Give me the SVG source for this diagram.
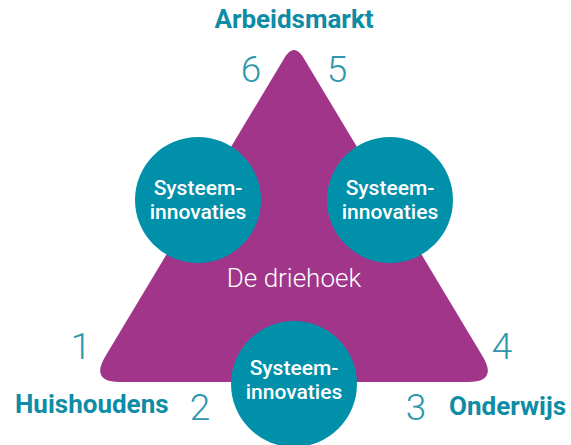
<svg xmlns="http://www.w3.org/2000/svg" width="571" height="445" viewBox="0 0 571 445">
<style>
.tri{fill:#A0358A}
.circ{fill:#0090AA}
.ct{font-family:Roboto,"Liberation Sans",sans-serif;font-weight:500;font-size:21px;fill:#fff;text-anchor:middle}
.num{font-family:Roboto,"Liberation Sans",sans-serif;font-weight:300;font-size:37px;fill:#2E97AD;text-anchor:middle}
.lbl{font-family:Roboto,"Liberation Sans",sans-serif;font-weight:700;font-size:26px;fill:#0E8CA6}
</style>
<rect width="571" height="445" fill="#fff"/>
<g id="triangle">
<path class="tri" d="M284.4,58 Q294,42 303.6,58 L482.6,356.3 Q498,382 468,382 L120,382 Q90,382 105.4,356.3 Z"/>
<text x="294" y="287" text-anchor="middle" font-family="Roboto,'Liberation Sans',sans-serif" font-weight="300" font-size="26" fill="#fff">De driehoek</text>
</g>
<g id="circle-left">
<circle class="circ" cx="198" cy="200" r="63"/>
<text class="ct" x="198" y="195">Systeem-</text>
<text class="ct" x="198" y="219">innovaties</text>
</g>
<g id="circle-right">
<circle class="circ" cx="390" cy="200" r="63"/>
<text class="ct" x="390" y="195">Systeem-</text>
<text class="ct" x="390" y="219">innovaties</text>
</g>
<g id="circle-bottom">
<circle class="circ" cx="294" cy="384" r="63"/>
<text class="ct" x="294" y="375">Systeem-</text>
<text class="ct" x="294" y="399">innovaties</text>
</g>
<g id="labels">
<text class="lbl" x="294" y="28" text-anchor="middle">Arbeidsmarkt</text>
<text class="lbl" x="15" y="413">Huishoudens</text>
<text class="lbl" x="449" y="415">Onderwijs</text>
</g>
<g id="numbers">
<text class="num" x="251" y="82">6</text>
<text class="num" x="337" y="82">5</text>
<text class="num" x="81" y="359">1</text>
<text class="num" x="502" y="359">4</text>
<text class="num" x="200" y="420">2</text>
<text class="num" x="416" y="420">3</text>
</g>
</svg>
